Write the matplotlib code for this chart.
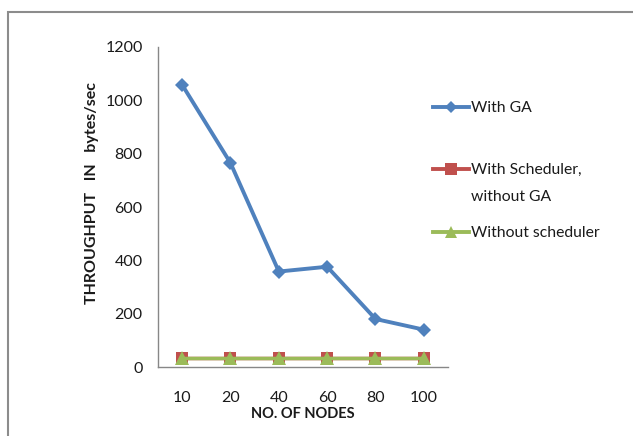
import matplotlib
matplotlib.use("Agg")

import matplotlib.pyplot as plt
import matplotlib.patches as mpatches
from matplotlib.lines import Line2D


###--------------------------data--------------------------###
nodes           =   ["10", "20", "40", "60", "80", "100"]
with_ga         =   [1058, 765, 358, 376, 180, 140]
with_scheduler  =   [35, 35, 35, 35, 35, 35]
without_sched   =   [35, 35, 35, 35, 35, 35]

labels          =   ["With GA", "With Scheduler,", "Without scheduler"]
label_cont      =   "without GA"
colors          =   ["#4F81BD", "#C0504D", "#9BBB59"]
y_ticks         =   [0, 200, 400, 600, 800, 1000, 1200]

plt.rcParams["font.family"] = ["Lato", "DejaVu Sans"]
TXT = "#1a1a1a"


###-----------------------figure----------------------------###
fig     =   plt.figure(figsize=(6.33, 4.36), dpi=100, facecolor="white")
ax      =   fig.add_axes([158/633, 1 - 367/436, 290/633, 320/436])

x       =   list(range(len(nodes)))

ax.plot(x, with_ga, color=colors[0], lw=2.8, marker="D", ms=7.5,
        markeredgewidth=0, zorder=3)
ax.plot(x, with_scheduler, color=colors[1], lw=2.5, marker="s", ms=9,
        markeredgewidth=0, zorder=3, clip_on=False)
ax.plot(x, without_sched, color=colors[2], lw=2.5, marker="^", ms=10,
        markeredgewidth=0, zorder=4, clip_on=False)

ax.set_xlim(-0.5, len(nodes) - 0.5)
ax.set_ylim(0, 1200)
ax.set_xticks(x)
ax.set_xticklabels(nodes)
ax.set_yticks(y_ticks)

for side in ["top", "right"]:
    ax.spines[side].set_visible(False)
for side in ["left", "bottom"]:
    ax.spines[side].set_color("#878787")
    ax.spines[side].set_linewidth(1)

ax.tick_params(axis="both", length=0, labelsize=11.5, colors=TXT)
ax.tick_params(axis="x", pad=17)
ax.tick_params(axis="y", pad=11)

ax.set_xlabel("NO. OF NODES", fontsize=10.5, fontweight="bold",
              color=TXT, labelpad=2)
ax.set_ylabel("THROUGHPUT   IN   bytes/sec", fontsize=11.5, fontweight="bold",
              color=TXT, va="center")
ax.yaxis.set_label_coords(-0.228, 0.544)


###-----------------------legend----------------------------###
markers     =   ["D", "s", "^"]
msizes      =   [6, 8, 8]
legend_y    =   [108, 170, 233]
legends     =   []
for lab, col, mk, ms, ly in zip(labels, colors, markers, msizes, legend_y):
    handle  =   Line2D([], [], color=col, lw=2.8, marker=mk, ms=ms,
                       markeredgewidth=0)
    leg     =   fig.legend([handle], [lab], loc="center left",
                           bbox_to_anchor=(433/633, 1 - ly/436),
                           frameon=False, fontsize=11.3, handlelength=2.3,
                           handletextpad=0.15, borderpad=0, borderaxespad=0)
    for t in leg.get_texts():
        t.set_color(TXT)
    legends.append(leg)

# second line of the scheduler entry, lined up with its first line
fig.canvas.draw()
first   =   legends[1].get_texts()[0].get_window_extent()
x0      =   fig.transFigure.inverted().transform((first.x0, 0))[0]
fig.text(x0, 1 - 197/436, label_cont, fontsize=11.3, color=TXT,
         ha="left", va="center")


###----------------------outer frame-----------------------###
frame = mpatches.Rectangle((8/633, -0.2), 1.2, 1.2 - 12/436,
                           transform=fig.transFigure, fill=False,
                           edgecolor="#8c8c8c", lw=1.5, clip_on=False)
fig.patches.append(frame)

fig.savefig("out.png", dpi=100)
